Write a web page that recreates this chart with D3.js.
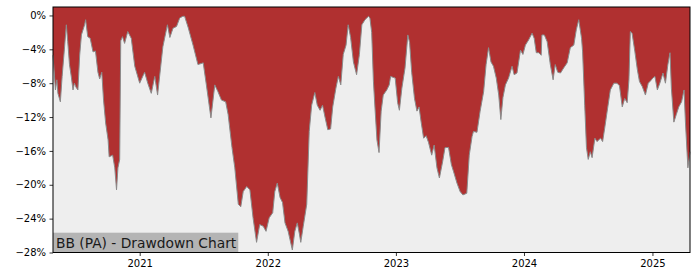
<!DOCTYPE html>
<html>
<head>
<meta charset="utf-8">
<script src="https://cdn.jsdelivr.net/npm/d3@7"></script>
<style>
  body { margin: 0; background: #ffffff; }
  svg { display: block; font-family: "DejaVu Sans", sans-serif; }
</style>
</head>
<body>
<div id="chart"></div>
<script>
// Dates of the drawdown series
const dates = [
  "2020-04-29","2020-05-06","2020-05-10","2020-05-13","2020-05-20","2020-05-25","2020-06-01","2020-06-06",
  "2020-06-10","2020-06-15","2020-06-20","2020-06-25","2020-06-29","2020-07-04","2020-07-09","2020-07-14",
  "2020-07-19","2020-07-28","2020-07-31","2020-08-06","2020-08-13","2020-08-21","2020-08-28","2020-09-04",
  "2020-09-09","2020-09-15","2020-09-20","2020-09-26","2020-10-03","2020-10-06","2020-10-16","2020-10-22",
  "2020-10-27","2020-10-31","2020-11-05","2020-11-08","2020-11-13","2020-11-19","2020-11-28","2020-12-08",
  "2020-12-18","2021-01-01","2021-01-15","2021-01-24","2021-02-03","2021-02-13","2021-02-21","2021-03-08",
  "2021-03-21","2021-03-28","2021-04-06","2021-04-16","2021-04-25","2021-05-04","2021-05-09","2021-05-19",
  "2021-06-02","2021-06-16","2021-07-01","2021-07-10","2021-07-23","2021-08-03","2021-08-12","2021-08-22",
  "2021-09-03","2021-09-10","2021-09-21","2021-09-29","2021-10-09","2021-10-16","2021-10-23","2021-11-02",
  "2021-11-11","2021-11-20","2021-11-30","2021-12-09","2021-12-19","2021-12-27","2022-01-05","2022-01-15",
  "2022-01-21","2022-01-28","2022-02-05","2022-02-12","2022-02-19","2022-02-28","2022-03-12","2022-03-19",
  "2022-03-26","2022-04-01","2022-04-05","2022-04-12","2022-04-22","2022-04-29","2022-05-06","2022-05-15",
  "2022-05-22","2022-05-30","2022-06-06","2022-06-13","2022-06-21","2022-06-29","2022-07-05","2022-07-14",
  "2022-07-21","2022-07-28","2022-08-04","2022-08-12","2022-08-18","2022-08-25","2022-09-02","2022-09-11",
  "2022-09-19","2022-09-26","2022-10-05","2022-10-15","2022-10-19","2022-10-24","2022-10-29","2022-11-03",
  "2022-11-08","2022-11-14","2022-11-20","2022-11-26","2022-12-06","2022-12-13","2022-12-17","2022-12-30",
  "2023-01-06","2023-01-11","2023-01-18","2023-01-27","2023-02-04","2023-02-09","2023-02-15","2023-02-23",
  "2023-03-02","2023-03-08","2023-03-14","2023-03-21","2023-03-28","2023-04-04","2023-04-13","2023-04-20",
  "2023-04-28","2023-05-05","2023-05-14","2023-05-21","2023-05-31","2023-06-08","2023-06-14","2023-06-24",
  "2023-07-03","2023-07-11","2023-07-22","2023-07-29","2023-08-06","2023-08-10","2023-08-20","2023-08-29",
  "2023-09-08","2023-09-15","2023-09-22","2023-09-29","2023-10-06","2023-10-14","2023-10-21","2023-10-27",
  "2023-11-02","2023-11-09","2023-11-18","2023-11-28","2023-12-04","2023-12-12","2023-12-22","2023-12-29",
  "2024-01-05","2024-01-14","2024-01-24","2024-01-30","2024-02-05","2024-02-12","2024-02-19","2024-02-21",
  "2024-02-28","2024-03-07","2024-03-16","2024-03-24","2024-03-30","2024-04-06","2024-04-14","2024-04-23",
  "2024-05-03","2024-05-12","2024-05-22","2024-05-29","2024-06-05","2024-06-13","2024-06-16","2024-06-22",
  "2024-06-27","2024-07-02","2024-07-08","2024-07-13","2024-07-21","2024-07-27","2024-08-06","2024-08-12",
  "2024-08-18","2024-08-25","2024-09-03","2024-09-13","2024-09-22","2024-09-29","2024-10-07","2024-10-14",
  "2024-10-21","2024-10-26","2024-10-30","2024-11-04","2024-11-12","2024-11-19","2024-11-25","2024-12-03",
  "2024-12-12","2024-12-20","2024-12-27","2025-01-02","2025-01-08","2025-01-15","2025-01-22","2025-01-31",
  "2025-02-07","2025-02-14","2025-02-20","2025-02-24","2025-03-03","2025-03-10","2025-03-17","2025-03-25",
  "2025-04-01","2025-04-05","2025-04-12","2025-04-18"
];

// Drawdown in percent, same order as dates
const drawdown = [
  -4.7,-8.8,-7.6,-9.2,-10.2,-7.2,-3.7,-1.1,
  -3.1,-5.8,-7.2,-8.8,-8.0,-8.5,-8.8,-4.7,
  -2.3,-1.1,-0.5,-2.5,-2.7,-4.3,-4.2,-6.7,
  -7.5,-6.7,-10.0,-12.7,-14.7,-16.7,-16.5,-18.0,
  -20.6,-18.0,-17.0,-3.0,-2.5,-3.3,-1.9,-2.7,
  -6.0,-8.0,-6.7,-8.0,-9.2,-7.2,-9.4,-3.7,
  -1.1,-2.6,-1.5,-1.3,-0.3,-0.1,-0.1,-1.4,
  -3.5,-5.8,-5.6,-8.2,-12.1,-8.2,-9.0,-10.0,
  -10.2,-11.7,-15.6,-18.0,-22.3,-22.6,-20.8,-20.2,
  -20.6,-23.9,-26.8,-24.7,-24.9,-25.5,-23.9,-23.3,
  -20.8,-19.8,-21.5,-22.1,-24.5,-25.5,-27.7,-25.5,
  -24.5,-25.8,-26.8,-24.9,-22.3,-13.7,-10.6,-9.1,
  -10.6,-11.2,-10.6,-12.0,-13.5,-13.4,-10.8,-8.6,
  -7.2,-8.2,-4.6,-3.5,-1.1,-2.6,-5.5,-7.0,
  -4.6,-1.1,-0.5,-0.1,-0.3,-2.0,-7.8,-11.3,
  -14.7,-16.2,-11.3,-9.4,-8.8,-8.2,-7.2,-7.4,
  -10.3,-11.2,-8.6,-6.2,-2.3,-3.2,-6.7,-9.8,
  -11.3,-10.8,-12.6,-14.5,-14.2,-15.0,-16.5,-15.3,
  -18.0,-19.2,-17.3,-15.6,-15.6,-17.6,-18.4,-19.8,
  -20.8,-21.2,-21.0,-16.5,-14.3,-13.7,-13.8,-11.3,
  -9.0,-5.8,-3.8,-5.5,-6.0,-7.4,-9.4,-12.3,
  -9.7,-8.2,-7.4,-6.0,-7.0,-6.8,-4.1,-4.6,
  -3.5,-2.9,-2.1,-2.7,-4.4,-4.4,-4.7,-2.3,
  -2.3,-3.1,-5.8,-7.6,-5.8,-6.7,-6.8,-6.2,
  -5.6,-3.8,-3.5,-1.7,-0.5,-2.7,-4.3,-10.6,
  -15.6,-17.0,-16.1,-16.8,-14.5,-14.9,-14.5,-14.9,
  -13.3,-11.3,-8.8,-8.0,-8.0,-8.3,-10.8,-9.8,
  -10.3,-7.6,-1.9,-2.1,-4.3,-6.4,-7.8,-8.4,
  -9.4,-8.0,-7.7,-7.4,-7.2,-8.8,-8.0,-6.8,
  -8.0,-5.8,-4.4,-8.6,-12.6,-11.7,-10.8,-10.2,
  -8.8,-12.6,-18.0,-16.1
];

// Tick values
const yTicks = [0, -4, -8, -12, -16, -20, -24, -28];
const xTickYears = [2021, 2022, 2023, 2024, 2025];

const chartTitle = "BB (PA) - Drawdown Chart";

const drawChart = () => {
    const W = 700, H = 280;
    const margin = { top: 7, right: 10, bottom: 27.5, left: 53 };
    const width = W - margin.left - margin.right,
        height = H - margin.top - margin.bottom;

    const parse = d3.timeParse("%Y-%m-%d");
    const data = dates.map((d, i) => ({ date: parse(d), dd: drawdown[i] }));

    const svg = d3.select("#chart")
        .append("svg")
        .attr("width", W)
        .attr("height", H);

    const g = svg.append("g")
        .attr("transform", "translate(" + margin.left + "," + margin.top + ")");

    // Scales
    const x = d3.scaleTime()
        .domain(d3.extent(data, d => d.date))
        .range([0, width]);
    const y = d3.scaleLinear()
        .domain([-28, 1])
        .range([height, 0]);

    // Background of the plot area
    g.append("rect")
        .attr("width", width)
        .attr("height", height)
        .attr("fill", "#eeeeee");

    // Red area from the top of the plot down to the drawdown curve
    const area = d3.area()
        .x(d => x(d.date))
        .y0(y(1))
        .y1(d => y(d.dd));
    g.append("path")
        .datum(data)
        .attr("d", area)
        .attr("fill", "#b03030");

    const line = d3.line()
        .x(d => x(d.date))
        .y(d => y(d.dd));
    g.append("path")
        .datum(data)
        .attr("d", line)
        .attr("fill", "none")
        .attr("stroke", "#8a8a8a")
        .attr("stroke-width", 1);

    // Title box at the bottom left
    const title = g.append("g");
    const titleText = title.append("text")
        .attr("x", 3)
        .attr("y", height - 4.5)
        .attr("font-size", 13.8)
        .attr("fill", "#1a1a1a")
        .text(chartTitle);
    const tw = titleText.node().getComputedTextLength();
    title.insert("rect", "text")
        .attr("x", 0)
        .attr("y", height - 19.8)
        .attr("width", tw + 5)
        .attr("height", 19.8)
        .attr("fill", "#b4b4b4");

    // Axes
    const fmtPct = v => (v < 0 ? "\u2212" + Math.abs(v) : v) + "%";
    const yAxis = g.append("g")
        .call(d3.axisLeft(y).tickValues(yTicks).tickFormat(fmtPct).tickSize(3.5).tickPadding(3.5));
    const xAxis = g.append("g")
        .attr("transform", "translate(0," + height + ")")
        .call(d3.axisBottom(x)
            .tickValues(xTickYears.map(yr => new Date(yr, 0, 1)))
            .tickFormat(d3.timeFormat("%Y"))
            .tickSize(3.5).tickPadding(3.5));

    [yAxis, xAxis].forEach(a => {
        a.select(".domain").remove();
        a.selectAll("text")
            .attr("font-family", "DejaVu Sans")
            .attr("font-size", 10)
            .attr("fill", "#000");
        a.selectAll("line").attr("stroke", "#000").attr("stroke-width", 0.8);
    });

    // Frame
    g.append("rect")
        .attr("width", width)
        .attr("height", height)
        .attr("fill", "none")
        .attr("stroke", "#000")
        .attr("stroke-width", 1);
}

drawChart();
</script>
</body>
</html>
